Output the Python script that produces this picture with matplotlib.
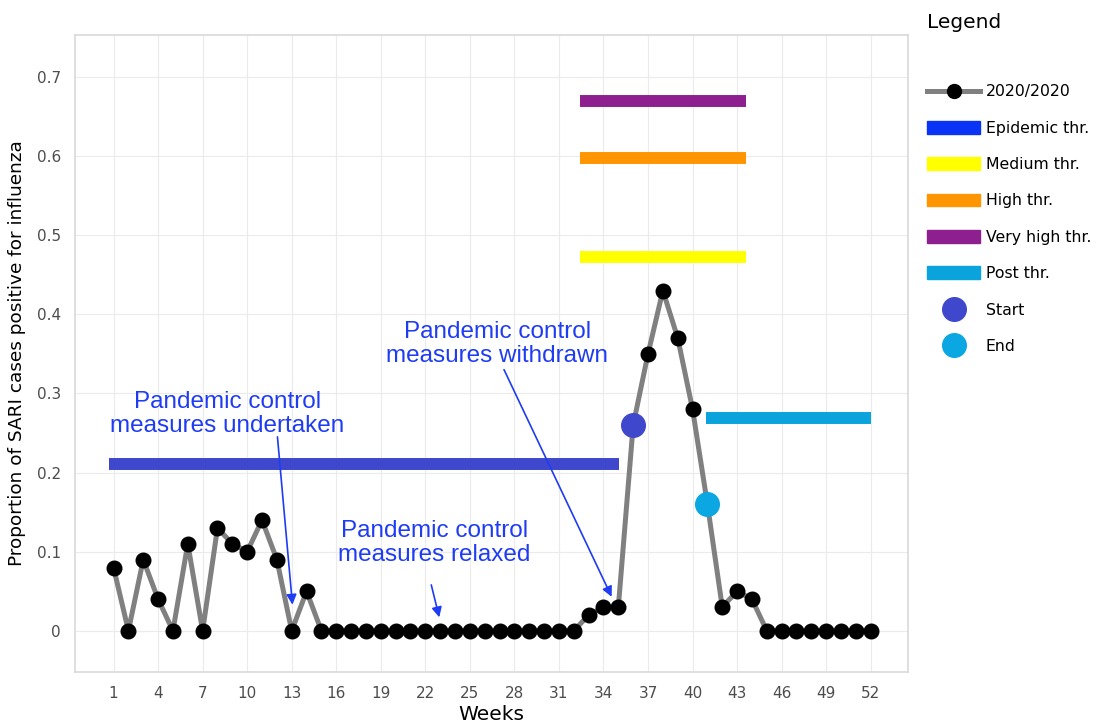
import matplotlib
matplotlib.use("Agg")
import matplotlib.pyplot as plt
from matplotlib.lines import Line2D
from matplotlib.patches import Patch

weeks = list(range(1, 53))
values = [0.08, 0, 0.09, 0.04, 0, 0.11, 0, 0.13, 0.11, 0.10,
          0.14, 0.09, 0, 0.05, 0, 0, 0, 0, 0, 0,
          0, 0, 0, 0, 0, 0, 0, 0, 0, 0,
          0, 0, 0.02, 0.03, 0.03, 0.26, 0.35, 0.43, 0.37, 0.28,
          0.16, 0.03, 0.05, 0.04, 0, 0, 0, 0, 0, 0,
          0, 0]

epidemic_thr = 0.211
epidemic_span = (0.7, 35.05)
medium_thr = 0.472
high_thr = 0.598
very_high_thr = 0.67
upper_span = (32.4, 43.6)
post_thr = 0.269
post_span = (40.9, 52.0)
start_week, start_val = 36, 0.26
end_week, end_val = 41, 0.16

xticks = list(range(1, 53, 3))
yticks = [0, 0.1, 0.2, 0.3, 0.4, 0.5, 0.6, 0.7]
ytick_labels = ["0", "0.1", "0.2", "0.3", "0.4", "0.5", "0.6", "0.7"]

notes = ["Pandemic control\nmeasures undertaken",
         "Pandemic control\nmeasures relaxed",
         "Pandemic control\nmeasures withdrawn"]
note_pos = [(8.67, 0.274), (22.6, 0.111), (26.84, 0.362)]
arrow_tail = [(12.04, 0.245), (22.4, 0.058), (27.3, 0.33)]
arrow_head = [(13.05, 0.033), (22.94, 0.017), (34.55, 0.043)]

c_epi = "#3f48cc"
c_epi_leg = "#0a34f5"
c_med = "#ffff00"
c_high = "#ff9500"
c_vhigh = "#8e1f8e"
c_post = "#0aa3dc"
c_start = "#3f48cc"
c_end = "#0aa7e3"
c_txt = "#1f3cf5"

fig = plt.figure(figsize=(11.12, 7.27), dpi=100)
ax = fig.add_axes([0.0674, 0.0757, 0.749, 0.8763])

ax.set_xlim(-1.6, 54.5)
ax.set_ylim(-0.052, 0.753)

bar_lw = 8.6
ax.hlines(epidemic_thr, *epidemic_span, color=c_epi, lw=bar_lw, zorder=2)
ax.hlines(medium_thr, *upper_span, color=c_med, lw=bar_lw, zorder=2)
ax.hlines(high_thr, *upper_span, color=c_high, lw=bar_lw, zorder=2)
ax.hlines(very_high_thr, *upper_span, color=c_vhigh, lw=bar_lw, zorder=2)
ax.hlines(post_thr, *post_span, color=c_post, lw=bar_lw, zorder=2)

ax.plot(weeks, values, color="#808080", lw=3.6, zorder=3)
ax.plot(weeks, values, "o", color="black", ms=10.5, zorder=4)
ax.plot([start_week], [start_val], "o", color=c_start, ms=17, zorder=5)
ax.plot([end_week], [end_val], "o", color=c_end, ms=17, zorder=5)

ax.set_xticks(xticks)
ax.set_yticks(yticks)
ax.set_yticklabels(ytick_labels)
ax.grid(True, color="#ebebeb", lw=0.8)
ax.set_axisbelow(True)
for s in ax.spines.values():
    s.set_color("#d9d9d9")
    s.set_linewidth(1.2)
ax.tick_params(length=0, labelsize=11, colors="#4d4d4d", pad=10)
ax.set_xlabel("Weeks", fontsize=14.5, labelpad=3)
ax.set_ylabel("Proportion of SARI cases positive for influenza", fontsize=13.3, labelpad=8)

for txt, pos, tail, head in zip(notes, note_pos, arrow_tail, arrow_head):
    ax.text(pos[0], pos[1], txt, fontsize=17.5, color=c_txt, family="Liberation Sans",
            ha="center", va="center", linespacing=1.1, zorder=6)
    ax.annotate("", xy=head, xytext=tail,
                arrowprops=dict(arrowstyle="-|>", color=c_txt, lw=1.2, mutation_scale=15,
                                shrinkA=0, shrinkB=0), zorder=6)

handles = [
    Line2D([0], [0], color="#808080", lw=3.6, marker="o", mfc="black", mec="black", ms=10),
    Patch(color=c_epi_leg),
    Patch(color=c_med),
    Patch(color=c_high),
    Patch(color=c_vhigh),
    Patch(color=c_post),
    Line2D([0], [0], ls="none", marker="o", color=c_start, ms=17),
    Line2D([0], [0], ls="none", marker="o", color=c_end, ms=17),
]
labels = ["2020/2020", "Epidemic thr.", "Medium thr.", "High thr.", "Very high thr.",
          "Post thr.", "Start", "End"]
leg = fig.legend(handles, labels, loc="upper left", bbox_to_anchor=(0.821, 1.002),
                 frameon=False, title="Legend", fontsize=11.3, title_fontsize=14.5,
                 handlelength=3.4, handleheight=0.85, handletextpad=0.35,
                 labelspacing=1.36, alignment="left")
leg._legend_box.sep = 38

fig.savefig("out.png", dpi=100)
